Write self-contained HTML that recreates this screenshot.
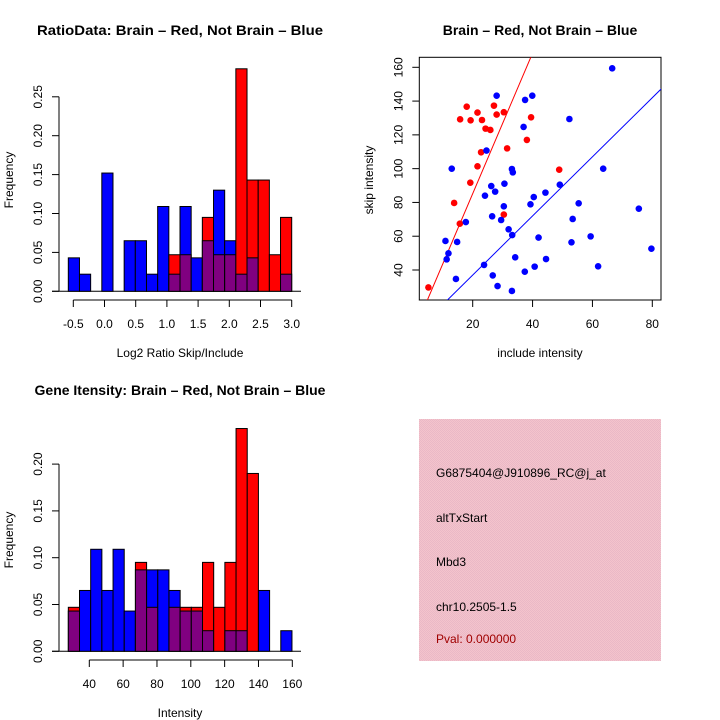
<!DOCTYPE html>
<html><head><meta charset="utf-8">
<style>
html,body{margin:0;padding:0;background:#fff;}
svg{display:block;font-family:"Liberation Sans",Arial,sans-serif;}
</style></head>
<body>
<svg id="c" width="720" height="720" viewBox="0 0 720 720">
  <rect x="0" y="0" width="720" height="720" fill="#fff"/>
  <text x="180" y="35" font-size="14" font-weight="bold" text-anchor="middle" textLength="286" lengthAdjust="spacingAndGlyphs">RatioData: Brain – Red, Not Brain – Blue</text>
  <text x="540" y="35" font-size="14" font-weight="bold" text-anchor="middle">Brain – Red, Not Brain – Blue</text>
  <text x="180" y="395" font-size="14" font-weight="bold" text-anchor="middle">Gene Itensity: Brain – Red, Not Brain – Blue</text>
  <g id="h1"></g>
  <g id="h2"></g>
  <g id="sc"></g>
  <g>
    <defs>
      <pattern id="pk" width="2" height="2" patternUnits="userSpaceOnUse">
        <rect width="2" height="2" fill="#f4c4cc"/>
        <rect width="1" height="1" fill="#eab8c6"/>
        <rect x="1" y="1" width="1" height="1" fill="#eab8c6"/>
      </pattern>
    </defs>
    <rect x="419" y="419" width="242" height="242" fill="url(#pk)"/>
    <text x="436" y="477" font-size="12">G6875404@J910896_RC@j_at</text>
    <text x="436" y="522" font-size="12">altTxStart</text>
    <text x="436" y="566" font-size="12">Mbd3</text>
    <text x="436" y="611" font-size="12">chr10.2505-1.5</text>
    <text x="436" y="643" font-size="12" fill="#a00000">Pval: 0.000000</text>
  </g>
</svg>
<script>
// ---- Ratio histogram data ----
const ratioBinStart = -0.58;
const ratioBinWidth = 0.179;
const ratioBlue = [0.043,0.022,0,0.152,0,0.065,0.065,0.022,0.109,0.022,0.109,0.043,0.065,0.130,0.065,0.022,0.043,0,0,0.022];
const ratioRed  = [0,0,0,0,0,0,0,0,0,0.047,0.047,0,0.095,0.047,0.047,0.286,0.143,0.143,0.047,0.095];
const ratioXTicks = [-0.5,0.0,0.5,1.0,1.5,2.0,2.5,3.0];
const ratioXTickLabels = ["-0.5","0.0","0.5","1.0","1.5","2.0","2.5","3.0"];
const ratioYTicks = [0,0.05,0.10,0.15,0.20,0.25];
const ratioYTickLabels = ["0.00","0.05","0.10","0.15","0.20","0.25"];

// ---- Intensity histogram data ----
const intBinStart = 27.6;
const intBinWidth = 6.61;
const intBlue = [0.043,0.065,0.109,0.065,0.109,0.043,0.087,0.087,0.087,0.065,0.043,0.043,0.022,0,0.022,0.022,0,0.065,0,0.022];
const intRed  = [0.047,0,0,0,0,0,0.095,0.047,0,0.047,0.047,0.047,0.095,0.047,0.095,0.238,0.190,0,0,0];
const intXTicks = [40,60,80,100,120,140,160];
const intXTickLabels = ["40","60","80","100","120","140","160"];
const intYTicks = [0,0.05,0.10,0.15,0.20];
const intYTickLabels = ["0.00","0.05","0.10","0.15","0.20"];

// ---- Scatter data ----
const redX = [5.2,13.8,15.7,15.8,18.0,19.2,19.3,21.6,21.6,22.8,23.1,24.3,25.9,27.1,28.0,30.4,30.4,31.5,38.1,39.5,48.9];
const redY = [29.7,79.7,67.4,129.2,136.7,91.7,128.6,101.4,133.2,109.7,128.8,123.7,122.9,137.3,132.0,133.4,72.8,112.0,117.0,130.4,99.4];
const blueX = [66.6,28.0,39.9,37.5,52.3,37.0,24.6,13.0,33.1,33.4,63.6,26.2,30.6,49.1,27.5,24.1,44.3,40.4,39.3,55.4,30.4,26.5,29.5,17.7,53.4,32.0,33.2,75.5,10.9,14.8,42.0,53.0,59.4,11.9,11.3,34.2,44.5,79.7,40.7,61.9,23.8,37.4,26.7,14.4,28.3,33.1];
const blueY = [159.4,143.2,143.2,140.7,129.4,124.7,110.7,100.0,99.8,97.8,100.0,89.7,91.1,90.5,86.4,84.0,85.8,83.2,78.9,79.5,77.7,71.8,69.6,68.4,70.2,64.1,60.7,76.3,57.2,56.6,59.2,56.4,59.9,49.9,46.3,47.5,46.5,52.6,42.0,42.2,43.0,39.0,36.8,34.7,30.5,27.6];
const redLine = [2.0, 4.16];   // intercept, slope
const blueLine = [2.0, 1.75];
const scXTicks = [20,40,60,80];
const scXTickLabels = ["20","40","60","80"];
const scYTicks = [40,60,80,100,120,140,160];
const scYTickLabels = ["40","60","80","100","120","140","160"];

const NS = "http://www.w3.org/2000/svg";
function mk(parent, tag, attrs, text) {
  const e = document.createElementNS(NS, tag);
  for (const k in attrs) e.setAttribute(k, attrs[k]);
  if (text !== undefined) e.textContent = text;
  parent.appendChild(e);
  return e;
}

function histogram(g, cfg) {
  const xs = v => cfg.x0px + (v - cfg.x0) * cfg.pxPerX;
  const ys = v => cfg.y0px - v * cfg.pxPerY;
  // y axis
  const ya = mk(g, "line", {x1: cfg.yAxisX, x2: cfg.yAxisX, y1: ys(cfg.yTicks[0]), y2: ys(cfg.yTicks[cfg.yTicks.length-1]), stroke: "#000"});
  
  
  cfg.yTicks.forEach((t, i) => {
    const tk = mk(g, "line", {x1: cfg.yAxisX - 7, x2: cfg.yAxisX, y1: ys(t), y2: ys(t), stroke: "#000"});
    
    
    const lb = mk(g, "text", {x: cfg.yAxisX - 17, y: ys(t), "font-size": 12, "text-anchor": "middle", transform: `rotate(-90 ${cfg.yAxisX - 17} ${ys(t)})`, dy: "0"}, cfg.yLabels[i]);
    
    
  });
  const yt = mk(g, "text", {x: 13, y: cfg.yTitleY, "font-size": 12, "text-anchor": "middle", transform: `rotate(-90 13 ${cfg.yTitleY})`}, "Frequency");
  
  
  // baseline
  const bl = mk(g, "line", {x1: 52, x2: 301, y1: ys(0), y2: ys(0), stroke: "#000"});
  
  
  // bars
  for (let i = 0; i < cfg.blue.length; i++) {
    const b = cfg.blue[i], r = cfg.red[i];
    const l = xs(cfg.binStart + i * cfg.binWidth), rr = xs(cfg.binStart + (i + 1) * cfg.binWidth);
    const mx = Math.max(b, r), mn = Math.min(b, r);
    if (mx > 0) {
      const bar = mk(g, "rect", {x: l, y: ys(mx), width: rr - l, height: ys(0) - ys(mx), fill: b >= r ? "#0000ff" : "#ff0000", stroke: "#000", "stroke-width": 1});
      
      
    }
    if (mn > 0) {
      const ov = mk(g, "rect", {x: l, y: ys(mn), width: rr - l, height: ys(0) - ys(mn), fill: "#800080", stroke: "#000", "stroke-width": 1});
      
      
    }
  }
  // x axis
  const xa = mk(g, "line", {x1: xs(cfg.xTicks[0]), x2: xs(cfg.xTicks[cfg.xTicks.length-1]), y1: cfg.xAxisY, y2: cfg.xAxisY, stroke: "#000"});
  
  
  cfg.xTicks.forEach((t, i) => {
    const tk = mk(g, "line", {x1: xs(t), x2: xs(t), y1: cfg.xAxisY, y2: cfg.xAxisY + 7, stroke: "#000"});
    
    
    const lb = mk(g, "text", {x: xs(t), y: cfg.xAxisY + 28, "font-size": 12, "text-anchor": "middle"}, cfg.xLabels[i]);
    
    
  });
  const xt = mk(g, "text", {x: cfg.xTitleX, y: cfg.xTitleY, "font-size": 12, "text-anchor": "middle"}, cfg.xTitle);
  
  
}

histogram(document.getElementById("h1"), {
  x0: -0.5, x0px: 73.3, pxPerX: 62.4, y0px: 291.3, pxPerY: 778,
  yAxisX: 59, yTicks: ratioYTicks, yLabels: ratioYTickLabels, yTitleY: 180,
  blue: ratioBlue, red: ratioRed, binStart: ratioBinStart, binWidth: ratioBinWidth,
  xTicks: ratioXTicks, xLabels: ratioXTickLabels, xAxisY: 300,
  xTitle: "Log2 Ratio Skip/Include", xTitleX: 180, xTitleY: 357
});
histogram(document.getElementById("h2"), {
  x0: 40, x0px: 89.3, pxPerX: 1.6917, y0px: 651.3, pxPerY: 936,
  yAxisX: 59, yTicks: intYTicks, yLabels: intYTickLabels, yTitleY: 540,
  blue: intBlue, red: intRed, binStart: intBinStart, binWidth: intBinWidth,
  xTicks: intXTicks, xLabels: intXTickLabels, xAxisY: 660,
  xTitle: "Intensity", xTitleX: 180, xTitleY: 717
});

// scatter
(function () {
  const g = document.getElementById("sc");
  const L = 419.3, R = 661, T = 57.3, B = 300;
  const xs = v => 472.7 + (v - 20) * (179.6 / 60);
  const ys = v => 67.3 - (v - 160) * (202.7 / 120);
  const cp = mk(g, "clipPath", {id: "scclip"});
  mk(cp, "rect", {x: L, y: T, width: R - L, height: B - T});
  const box = mk(g, "rect", {x: L, y: T, width: R - L, height: B - T, fill: "none", stroke: "#000"});
  
  
  scXTicks.forEach((t, i) => {
    const tk = mk(g, "line", {x1: xs(t), x2: xs(t), y1: B, y2: B + 7, stroke: "#000"});
    
    
    const lb = mk(g, "text", {x: xs(t), y: B + 28, "font-size": 12, "text-anchor": "middle"}, scXTickLabels[i]);
    
    
  });
  scYTicks.forEach((t, i) => {
    const tk = mk(g, "line", {x1: L - 7, x2: L, y1: ys(t), y2: ys(t), stroke: "#000"});
    
    
    const lx = L - 17;
    const lb = mk(g, "text", {x: lx, y: ys(t), "font-size": 12, "text-anchor": "middle", transform: `rotate(-90 ${lx} ${ys(t)})`}, scYTickLabels[i]);
    
    
  });
  const xt = mk(g, "text", {x: 540, y: 357, "font-size": 12, "text-anchor": "middle"}, "include intensity");
  
  
  const yt = mk(g, "text", {x: 373, y: 180, "font-size": 12, "text-anchor": "middle", transform: "rotate(-90 373 180)"}, "skip intensity");
  
  
  const cg = mk(g, "g", {"clip-path": "url(#scclip)"});
  [[redLine, "#ff0000", "brain-fit-line"], [blueLine, "#0000ff", "not-brain-fit-line"]].forEach(([ln, col, nm]) => {
    const x1 = 0, x2 = 100;
    const l = mk(cg, "line", {x1: xs(x1), y1: ys(ln[0] + ln[1] * x1), x2: xs(x2), y2: ys(ln[0] + ln[1] * x2), stroke: col, "stroke-width": 1});
    
    
  });
  redX.forEach((x, i) => {
    const c = mk(g, "circle", {cx: xs(x), cy: ys(redY[i]), r: 3.3, fill: "#ff0000"});
    
    
  });
  blueX.forEach((x, i) => {
    const c = mk(g, "circle", {cx: xs(x), cy: ys(blueY[i]), r: 3.3, fill: "#0000ff"});
    
    
  });
})();
</script>
</body></html>
